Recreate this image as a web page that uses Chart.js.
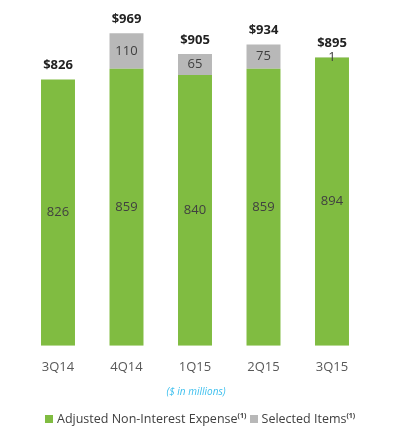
<!DOCTYPE html>
<html>
<head>
<meta charset="utf-8">
<script src="https://cdn.jsdelivr.net/npm/chart.js@4/dist/chart.umd.min.js"></script>
<style>
  html, body { margin: 0; padding: 0; background: #fff; }
  #wrap { position: relative; width: 396px; height: 440px; font-family: "Open Sans", sans-serif; }
  #units { position: absolute; left: 0; width: 392px; top: 384px; text-align: center;
           font-size: 10px; font-style: italic; color: #3bbfee; }
  #legend { position: absolute; left: 45px; top: 410px; white-space: nowrap;
            font-size: 12.5px; color: #404040; }
  #legend span.box { display: inline-block; width: 8px; height: 8px; margin-right: 4px; vertical-align: 0; }
  #legend sup { font-size: 7px; font-weight: bold; }
</style>
</head>
<body>
<div id="wrap">
  <canvas id="expenseChart" width="396" height="440"></canvas>
  <div id="units">($ in millions)</div>
  <div id="legend"></div>
</div>
<script>
// 四半期
const quarters = ["3Q14", "4Q14", "1Q15", "2Q15", "3Q15"];
// 調整後非金利費用
const adjustedExpense = [826, 859, 840, 859, 894];
// 特定項目（3Q14はなし）
const selectedItems = [null, 110, 65, 75, 1];
// 合計（棒の上に表示）
const totals = [826, 969, 905, 934, 895];

const GREEN = "#80bc41";
const GREY = "#b8b8b8";

// 数値ラベルを描くだけの簡単なプラグイン
const valueLabels = {
  id: "valueLabels",
  afterDatasetsDraw(chart) {
    const { ctx } = chart;
    ctx.save();
    ctx.textAlign = "center";
    ctx.textBaseline = "middle";
    ctx.font = "13px 'Open Sans'";
    ctx.fillStyle = "#404040";
    chart.data.datasets.forEach((ds, i) => {
      chart.getDatasetMeta(i).data.forEach((bar, j) => {
        if (ds.data[j] == null) return;
        ctx.fillText(String(ds.data[j]), bar.x, (bar.y + bar.base) / 2);
      });
    });
    // 合計
    ctx.font = "bold 13px 'Open Sans'";
    ctx.fillStyle = "#222";
    const ys = chart.scales.y;
    const xs = chart.scales.x;
    totals.forEach((t, j) => {
      ctx.fillText("$" + t, xs.getPixelForValue(j), ys.getPixelForValue(t) - 14);
    });
    ctx.restore();
  },
};

new Chart(document.getElementById("expenseChart").getContext("2d"), {
  type: "bar",
  data: {
    labels: quarters,
    datasets: [
      { label: "Adjusted Non-Interest Expense", data: adjustedExpense, backgroundColor: GREEN,
        barPercentage: 0.496, categoryPercentage: 1 },
      { label: "Selected Items", data: selectedItems, backgroundColor: GREY,
        barPercentage: 0.496, categoryPercentage: 1 },
    ],
  },
  options: {
    responsive: false,
    animation: false,
    events: [],
    layout: { padding: { left: 23.75, right: 29.75, top: 23.3, bottom: 0 } },
    scales: {
      x: {
        stacked: true,
        grid: { display: false, drawTicks: false, tickLength: 0 },
        border: { display: false },
        ticks: { padding: 14, color: "#595959", font: { family: "'Open Sans'", size: 13 } },
        afterFit: (s) => { s.height = 440 - 345.7; },
      },
      y: { stacked: true, display: false, min: 0, max: 1000 },
    },
    plugins: { legend: { display: false }, tooltip: { enabled: false } },
  },
  plugins: [valueLabels],
});

// 凡例（上付きの(1)があるのでHTMLで）
document.getElementById("legend").innerHTML =
  `<span class="box" style="background:${GREEN}"></span>Adjusted Non-Interest Expense<sup>(1)</sup> ` +
  `<span class="box" style="background:${GREY}"></span>Selected Items<sup>(1)</sup>`;
</script>
</body>
</html>
